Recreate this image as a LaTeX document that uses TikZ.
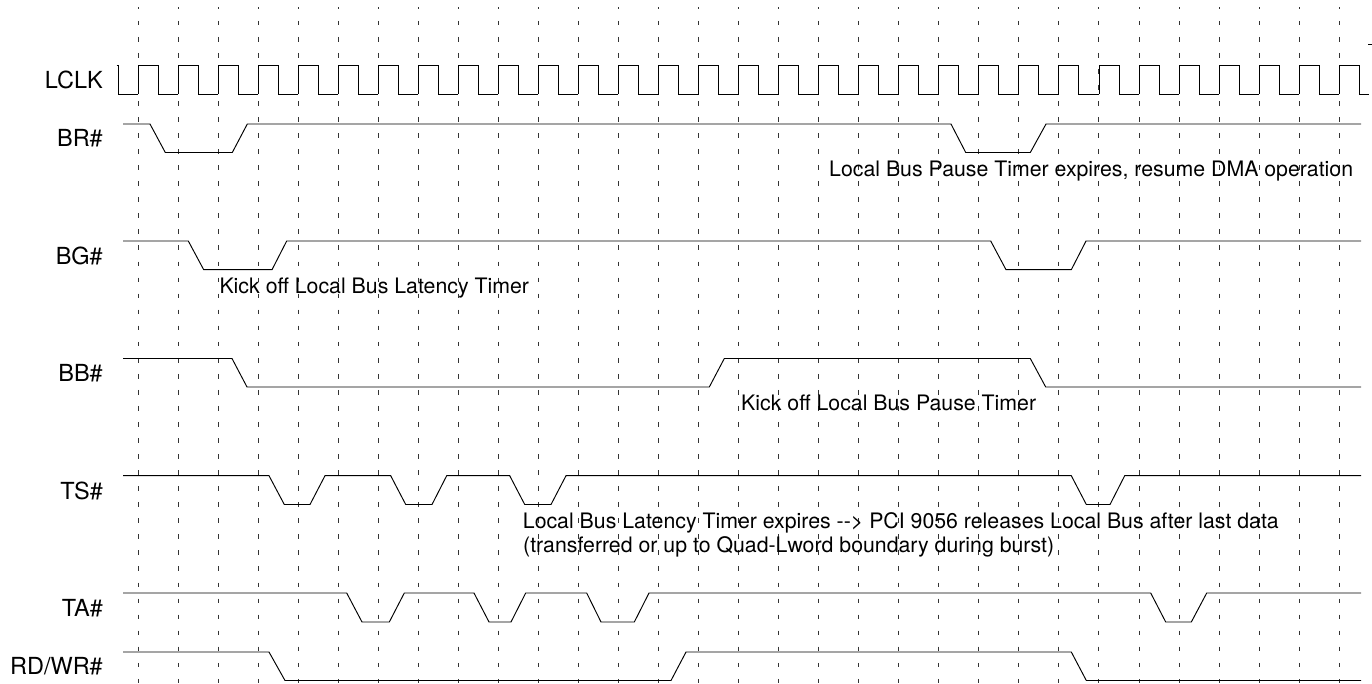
\documentclass[tikz,border=0pt]{standalone}
\usepackage{fontspec}
\setmainfont{TeX Gyre Heros}
\usetikzlibrary{positioning}
\tikzset{
  sig/.style={draw=black,line width=0.95pt,line join=miter},
  tick/.style={draw=black!80,line width=1pt,dash pattern=on 4.7pt off 11.35pt,dash phase=2.3pt},
  siglab/.style={anchor=base east,inner sep=0pt,font=\fontsize{23.5}{27}\selectfont},
  note/.style={anchor=base west,inner sep=0pt,font=\fontsize{21.3}{24}\selectfont}
}
\begin{document}
\begin{tikzpicture}[x=1pt,y=-1pt]
  \useasboundingbox (0,0) rectangle (1372,683);
  % clock edges, one grid line per rising edge
  \foreach \k in {0,...,30}
    \draw[tick] ({138+40.04*\k},7) -- ({138+40.04*\k},683);
  % LCLK
  \draw[sig] (116.5,65) -- (118,65) -- (118,94) -- (138,94);
  \foreach \k in {0,...,29}
    \draw[sig] ({138+40.04*\k},94) -- ({138+40.04*\k},65) -- ({158+40.04*\k},65)
      -- ({158+40.04*\k},94) -- ({178.04+40.04*\k},94);
  \draw[sig] (1339.2,94) -- (1339.2,65) -- (1359.3,65) -- (1359.3,94) -- (1368.5,94);
  \draw[sig,line width=0.6pt] (1368,44) -- (1372,44);
  % bus signals
  \draw[sig] (123,124) -- (150,124) -- (165.3,152.5) -- (232.3,152.5) -- (247.3,124)
    -- (951,124) -- (965.7,152.5) -- (1030.3,152.5) -- (1046,124) -- (1361,124);
  \draw[sig] (123,241) -- (188.3,241) -- (203.7,269.7) -- (272,269.7) -- (286.7,241)
    -- (990.7,241) -- (1006,269.7) -- (1071.3,269.7) -- (1086,241) -- (1361,241);
  \draw[sig] (123,358.5) -- (232,358.5) -- (247,387) -- (709.3,387) -- (724.3,358.5)
    -- (1030.3,358.5) -- (1045.7,387) -- (1361,387);
  \draw[sig] (123,475.7) -- (269,475.7) -- (284.3,504.5) -- (310,504.5) -- (325,475.7)
    -- (390.7,475.7) -- (405.7,504.5) -- (432,504.5) -- (446.7,475.7)
    -- (509.7,475.7) -- (524.7,504.5) -- (551,504.5) -- (566,475.7)
    -- (1071.3,475.7) -- (1086.3,504.5) -- (1110,504.5) -- (1124.7,475.7) -- (1361,475.7);
  \draw[sig] (123,593) -- (346.7,593) -- (362,622) -- (389.3,622) -- (404.3,593)
    -- (474,593) -- (489,622) -- (511,622) -- (525.7,593)
    -- (586.7,593) -- (601,622) -- (634.3,622) -- (649,593)
    -- (1150.7,593) -- (1165.7,622) -- (1191.3,622) -- (1206.7,593) -- (1361,593);
  \draw[sig] (123,652) -- (269,652) -- (285,680.5) -- (671,680.5) -- (686,652)
    -- (1071.3,652) -- (1086.3,680.5) -- (1361,680.5);
  % signal names
  \node[siglab] (lclk) at (103,88) {LCLK};
  \node[siglab] (br) at (103,146.7) {BR\#};
  \node[siglab] (bg) at (103,264) {BG\#};
  \node[siglab] (bb) at (103,381.3) {BB\#};
  \node[siglab] (ts) at (103,499) {TS\#};
  \node[siglab] (ta) at (103,616.7) {TA\#};
  \node[siglab] (rdwr) at (103,674.3) {RD/WR\#};
  % timer notes
  \node[note] (resume) at (829,176) {Local Bus Pause Timer expires, resume DMA operation};
  \node[note] (latstart) at (219.3,293.3) {Kick off Local Bus Latency Timer};
  \node[note] (pausestart) at (741,410) {Kick off Local Bus Pause Timer};
  \node[note] (latend) at (522.7,528) {Local Bus Latency Timer expires -\kern0pt-\kern0pt> PCI 9056 releases Local Bus after last data};
  \node[note] (latend2) at (523,552) {(transferred or up to Quad-Lword boundary during burst)};
\end{tikzpicture}
\end{document}
